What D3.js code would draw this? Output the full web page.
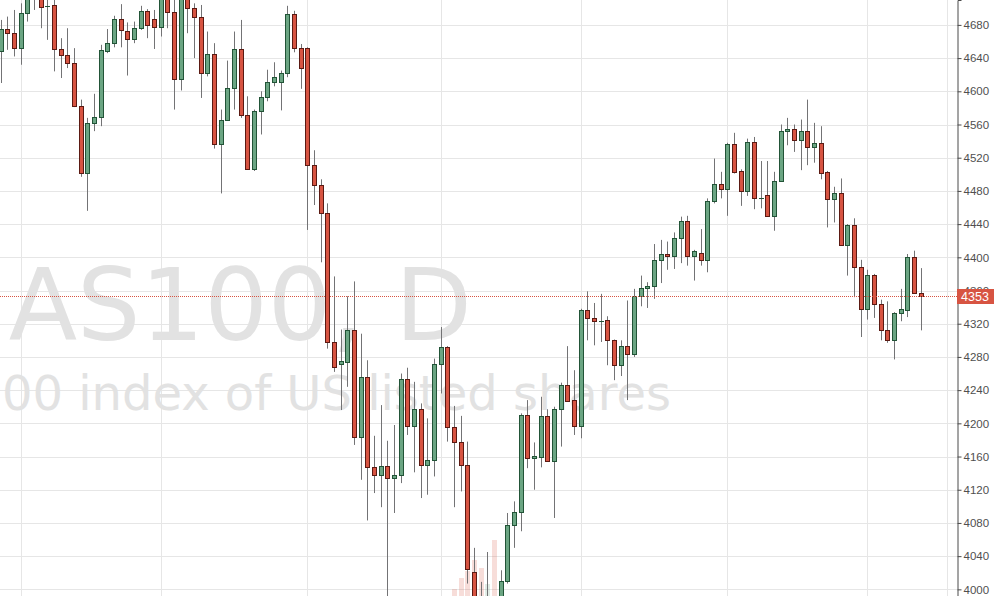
<!DOCTYPE html>
<html><head><meta charset="utf-8">
<script src="https://cdn.jsdelivr.net/npm/d3@7"></script>
<style>html,body{margin:0;padding:0;background:#fff;overflow:hidden}</style>
</head><body><svg id="c" width="994" height="596"></svg>
<script>
// ---- data (daily candles) ----
const opens = [4648,4675,4670,4652,4694,4728,4722,4703,4704,4651,4644,4634,4582,4501,4562,4569,4649,4658,4687,4673,
4663,4676,4697,4687,4678,4716,4695,4615,4713,4700,4689,4622,4645,4536,4566,4604,4651,4572,4506,4576,
4593,4611,4611,4622,4693,4652,4652,4511,4487,4453,4298,4272,4274,4313,4184,4256,4147,4138,4149,4134,
4138,4254,4197,4217,4150,4156,4271,4292,4195,4178,4150,4021,3990,3975,3986,3978,4010,4077,4093,4210,
4158,4159,4209,4155,4217,4246,4228,4197,4337,4327,4323,4325,4300,4270,4293,4284,4353,4363,4366,4397,
4404,4402,4423,4444,4401,4405,4397,4468,4488,4482,4537,4504,4480,4539,4472,4475,4450,4492,4552,4554,
4541,4552,4533,4538,4503,4470,4477,4415,4439,4388,4338,4379,4344,4313,4301,4333,4337,4400,4357];
const highs = [4686,4690,4698,4706,4725,4740,4730,4716,4712,4664,4676,4652,4590,4568,4597,4656,4675,4691,4705,4683,
4684,4703,4699,4698,4725,4722,4712,4720,4720,4706,4704,4672,4658,4578,4637,4672,4686,4594,4578,4600,
4626,4635,4625,4703,4697,4657,4653,4529,4494,4465,4377,4313,4353,4371,4308,4276,4185,4222,4179,4198,
4260,4267,4250,4224,4206,4278,4316,4293,4221,4209,4178,4050,4009,4045,3990,4023,4092,4106,4212,4228,
4177,4232,4217,4220,4249,4293,4264,4338,4359,4345,4356,4329,4301,4300,4348,4362,4378,4370,4416,4421,
4419,4430,4449,4450,4409,4434,4471,4519,4503,4538,4550,4506,4543,4545,4516,4516,4503,4560,4568,4560,
4566,4590,4562,4558,4504,4485,4495,4440,4447,4397,4385,4380,4349,4347,4334,4362,4404,4408,4387];
const lows = [4610,4650,4642,4632,4684,4698,4676,4662,4624,4616,4628,4581,4497,4456,4552,4558,4646,4653,4653,4619,
4658,4674,4664,4651,4666,4676,4578,4601,4670,4640,4592,4618,4531,4477,4565,4578,4568,4506,4504,4548,
4588,4606,4577,4617,4647,4603,4433,4463,4394,4290,4262,4216,4244,4174,4132,4083,4116,4099,3980,4092,
4128,4186,4141,4110,4114,4136,4236,4178,4099,4118,4007,3975,3965,3960,3955,3970,4007,4050,4070,4146,
4120,4147,4154,4086,4172,4226,4186,4182,4300,4294,4298,4270,4252,4257,4228,4280,4341,4339,4350,4369,
4385,4386,4393,4390,4372,4390,4382,4465,4471,4450,4501,4462,4474,4458,4459,4449,4432,4491,4535,4527,
4505,4511,4514,4494,4436,4442,4414,4378,4352,4304,4325,4327,4300,4297,4277,4323,4328,4357,4312];
const closes = [4675,4670,4652,4694,4715,4722,4702,4703,4651,4644,4634,4582,4501,4562,4569,4650,4658,4687,4674,4663,
4676,4697,4680,4678,4718,4695,4615,4713,4700,4689,4622,4645,4536,4566,4604,4651,4572,4506,4576,4593,
4611,4617,4622,4693,4652,4628,4511,4487,4453,4298,4268,4275,4313,4184,4256,4147,4138,4149,4134,4138,
4254,4197,4217,4150,4156,4271,4292,4195,4178,4150,4025,3985,3975,3988,3975,4010,4078,4093,4210,4158,
4161,4209,4155,4217,4246,4227,4197,4337,4327,4323,4323,4300,4270,4293,4284,4353,4363,4366,4397,4404,
4401,4423,4444,4401,4408,4397,4468,4488,4482,4537,4503,4480,4539,4472,4472,4450,4492,4552,4554,4541,
4552,4533,4538,4502,4470,4477,4415,4439,4388,4338,4379,4344,4313,4301,4333,4338,4400,4357,4353];
const yTicks = [4000,4040,4080,4120,4160,4200,4240,4280,4320,4360,4400,4440,4480,4520,4560,4600,4640,4680];
const monthStartIdx = [3,24,46,66,87,109,130,142];
const volIdx = [68,69,70,71,72,73,74];
const volume = [70,180,250,360,280,120,560];
const lastPrice = 4353;
const symbolText = "NAS100, D";
const descText = "NASDAQ 100 index of US listed shares";

// ---- layout ----
const W = 994, H = 596, plotR = 957;
const UP = "#6ba583", DOWN = "#d75442", UPB = "#225437", DOWNB = "#5b1a13", WICK = "#737375";
const svg = d3.select("#c");
const x = d3.scaleLinear().domain([0, 138]).range([0.6, 920.6]);
const y = d3.scaleLinear().domain([3992, 4710]).range([H, 0]);
const vy = d3.scaleLinear().domain([0, 1000]).range([H, H - 100]);

svg.append("rect").attr("width", W).attr("height", H).attr("fill", "#fff");
svg.append("defs").append("clipPath").attr("id", "pc").append("rect")
  .attr("x", 0).attr("y", 0).attr("width", plotR).attr("height", H);
const g = svg.append("g").attr("clip-path", "url(#pc)");

// grid
g.selectAll(".hg").data(yTicks).join("line")
  .attr("x1", 0).attr("x2", plotR)
  .attr("y1", d => Math.round(y(d)) + 0.5).attr("y2", d => Math.round(y(d)) + 0.5)
  .attr("stroke", "#e6e6e6").attr("stroke-width", 1);
g.selectAll(".vg").data(monthStartIdx).join("line")
  .attr("y1", 0).attr("y2", H)
  .attr("x1", d => Math.round(x(d)) + 0.5).attr("x2", d => Math.round(x(d)) + 0.5)
  .attr("stroke", "#e6e6e6").attr("stroke-width", 1);

// watermark
g.append("text").attr("x", 472).attr("y", 340).attr("text-anchor", "end")
  .attr("font-family", "DejaVu Sans").attr("font-size", 100).attr("fill", "#e2e2e2")
  .text(symbolText);
g.append("text").attr("x", 671).attr("y", 410).attr("text-anchor", "end")
  .attr("font-family", "DejaVu Sans").attr("font-size", 48).attr("fill", "#e2e2e2")
  .text(descText);

// volume
g.selectAll(".vol").data(volIdx).join("rect")
  .attr("x", d => Math.round(x(d)) - 2).attr("width", 5)
  .attr("y", (d, k) => vy(volume[k])).attr("height", (d, k) => H - vy(volume[k]))
  .attr("fill", d => closes[d] >= opens[d] ? UP : DOWN).attr("opacity", 0.2);

// candles
const idx = d3.range(opens.length);
g.selectAll(".wick").data(idx).join("line")
  .attr("x1", i => Math.round(x(i)) + 0.5).attr("x2", i => Math.round(x(i)) + 0.5)
  .attr("y1", i => y(highs[i])).attr("y2", i => y(lows[i]))
  .attr("stroke", WICK).attr("stroke-width", 1);
g.selectAll(".body").data(idx).join("rect")
  .attr("x", i => Math.round(x(i)) - 2 + 0.5).attr("width", 4)
  .attr("y", i => Math.round(y(Math.max(opens[i], closes[i]))) + 0.5)
  .attr("height", i => Math.max(0.01, Math.round(y(Math.min(opens[i], closes[i]))) - Math.round(y(Math.max(opens[i], closes[i])))))
  .attr("fill", i => closes[i] >= opens[i] ? UP : DOWN)
  .attr("stroke", i => closes[i] >= opens[i] ? UPB : DOWNB).attr("stroke-width", 1);

// last price line
g.append("line").attr("x1", 0).attr("x2", plotR)
  .attr("y1", Math.round(y(lastPrice)) + 0.5).attr("y2", Math.round(y(lastPrice)) + 0.5)
  .attr("stroke", DOWN).attr("stroke-width", 1).attr("stroke-dasharray", "1,1");

// axis
const axis = svg.append("g").attr("transform", `translate(${plotR + 0.5},0)`)
  .call(d3.axisRight(y).tickValues(yTicks).tickSize(4).tickPadding(2).tickFormat(d3.format("d")));
axis.select(".domain").attr("stroke", "#4a4a4a");
axis.selectAll(".tick line").attr("stroke", "#4a4a4a");
axis.selectAll(".tick text").attr("fill", "#4f4f4f").attr("font-family", "Liberation Sans, Arial, sans-serif").attr("font-size", 11.5);

// last price label
const ly = y(lastPrice);
svg.append("rect").attr("x", plotR).attr("y", Math.round(ly) - 7).attr("width", W - plotR).attr("height", 15).attr("fill", DOWN);
svg.append("text").attr("x", 975).attr("y", ly).attr("dy", "0.35em").attr("text-anchor", "middle")
  .attr("fill", "#fff").attr("font-family", "Liberation Sans, Arial, sans-serif").attr("font-size", 12.5)
  .text(d3.format("d")(lastPrice));
</script></body></html>
